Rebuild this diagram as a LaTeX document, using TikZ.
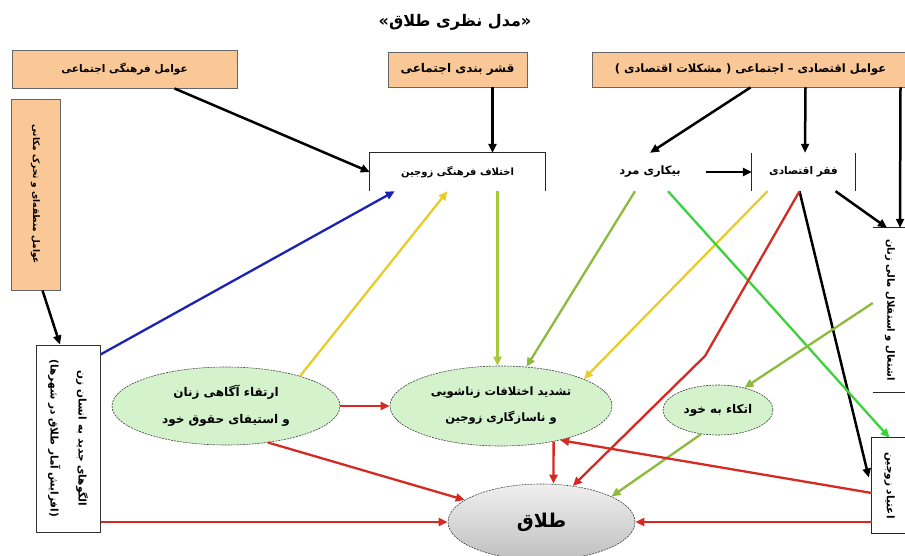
\documentclass[tikz,border=0pt]{standalone}
\usepackage{fontspec}
\newfontfamily\fa[Script=Arabic]{DejaVu Sans}
\TeXXeTstate=1
\usetikzlibrary{shapes.geometric,calc,arrows.meta}
\definecolor{peachc}{HTML}{F9C896}
\definecolor{greenc}{HTML}{D4F2CC}
\definecolor{redc}{HTML}{D42A22}
\definecolor{bluec}{HTML}{1C22B4}
\definecolor{goldc}{HTML}{E8CC2C}
\definecolor{ygreenc}{HTML}{A6C83A}
\definecolor{olivec}{HTML}{8DBA3A}
\definecolor{brightgc}{HTML}{3CD23C}
\newcommand{\RL}[1]{\beginR #1\endR}
\newcommand{\fs}[1]{\fontsize{#1}{#1}\selectfont}
\begin{document}
\begin{tikzpicture}[x=1pt,y=-1pt,
  pbox/.style={rectangle, fill=peachc, draw=black!60, line width=0.9pt, inner sep=0pt, font=\fa\bfseries},
  wbox/.style={rectangle, inner sep=0pt, font=\fa\bfseries},
  vtext/.style={inner sep=0pt, rotate=-90, align=center, font=\fa\bfseries},
  bub/.style={ellipse, fill=greenc, draw=black!75, dash pattern=on 2pt off 1pt, line width=0.6pt, inner sep=0pt, align=center, font=\fa\bfseries\fontsize{11.5}{26}\selectfont},
  border/.style={black!85, line width=1.2pt},
  arr/.style={-{Triangle[length=9pt,width=8pt]}, line width=2.5pt},
  carr/.style={-{Triangle[length=9pt,width=8pt]}, line width=2.3pt}
]
\useasboundingbox (0,0) rectangle (905,556);

% title
\node[font=\fa\bfseries\fs{16}] (title) at (455,22) {\RL{«مدل نظری طلاق»}};

% top boxes
\node[pbox, minimum width=225pt, minimum height=38pt] (b1) at (124.5,69) {\fs{10.5}\RL{عوامل فرهنگی اجتماعی}};
\node[pbox, minimum width=139pt, minimum height=35pt] (b2) at (457.5,69.5) {\fs{12}\RL{قشر بندی اجتماعی}};
\node[pbox, minimum width=317pt, minimum height=35pt] (b3) at (750.5,69.5) {\fs{11.5}\RL{عوامل اقتصادی – اجتماعی ( مشکلات اقتصادی )}};

% left vertical boxes
\node[pbox, minimum width=49pt, minimum height=191pt] (lv) at (35.5,194.5) {};
\node[vtext] (lvt) at (lv.center) {\fs{9}\RL{عوامل منطقه‌ای و تحرک مکانی}};
\node[wbox, draw=black!80, line width=1pt, minimum width=64pt, minimum height=187pt] (lw) at (68,438.5) {};
\node[vtext, font=\fa\bfseries\fontsize{10.5}{28}\selectfont] (lwt) at (lw.center) {\RL{الگوهای جدید به انسان زن}\\\RL{(افزایش آمار طلاق در شهرها)}};

% middle row boxes
\node[wbox, minimum width=175pt, minimum height=38pt] (c1) at (457.5,172) {\fs{10}\RL{اختلاف فرهنگی زوجین}};
\draw[border] (c1.south west) -- (c1.north west) -- (c1.north east) -- (c1.south east);
\node[wbox, minimum width=112pt, minimum height=38pt] (c2) at (650,172) {\fs{11.5}\RL{بیکاری مرد}};
\node[wbox, minimum width=103pt, minimum height=38pt] (c3) at (803.5,172) {\fs{10.5}\RL{فقر اقتصادی}};
\draw[border] (c3.south west) -- (c3.north west);
\draw[border] (c3.south east) -- (c3.north east);

% right vertical boxes
\node[wbox, minimum width=34pt, minimum height=164pt] (r1) at (890,310) {};
\draw[border] (r1.north west) -- (r1.north east);
\draw[border] (r1.south west) -- (r1.south east);
\node[vtext] (r1t) at (r1.center) {\fs{10}\RL{اشتغال و استقلال مالی زنان}};
\node[wbox, minimum width=35pt, minimum height=95pt] (r2) at (889.5,485.5) {};
\draw[border] (r2.north east) -- (r2.north west) -- (r2.south west) -- (r2.south east);
\node[vtext] (r2t) at (r2.center) {\fs{10.5}\RL{اعتیاد زوجین}};

% ellipses
\node[bub, minimum width=228pt, minimum height=78pt, font=\fa\bfseries\fontsize{12}{27}\selectfont] (e1) at (226,406) {\RL{ارتقاء آگاهی زنان}\\\RL{و استیفای حقوق خود}};
\node[bub, minimum width=222pt, minimum height=80pt] (e2) at (501,406) {\RL{تشدید اختلافات زناشویی}\\\RL{و ناسازگاری زوجین}};
\node[bub, minimum width=110pt, minimum height=50pt, font=\fa\bfseries\fs{12}] (e3) at (718,410) {\RL{اتکاء به خود}};
\node[ellipse, top color=gray!12, bottom color=gray!50, draw=black!75, dash pattern=on 2pt off 1pt, line width=0.6pt, inner sep=0pt, minimum width=187pt, minimum height=76pt, font=\fa\bfseries\fs{19}] (T) at (541.5,522) {\RL{طلاق}};

% black arrows
\draw[arr] ($(b1.south)+(50,0)$) -- (c1.west);
\draw[arr] ($(b2.south)+(35,0)$) -- ($(c1.north)+(35,0)$);
\draw[arr] (b3.south) -- (c2.north);
\draw[arr] ($(b3.south)+(55,0)$) -- ($(c3.north)+(1.5,0)$);
\draw[arr] ($(b3.south)+(150,0)$) -- ($(r1.north)+(10,0)$);
\draw[arr] ($(c3.south)+(32,0)$) -- ($(r1.north)+(-3,0)$);
\draw[arr] ($(lv.south)+(7,0)$) -- ($(lw.north)+(-8,0)$);
\draw[arr] (c2.east) -- (c3.west);
\draw[arr] ($(c3.south)+(-4,0)$) -- ($(r2.west)+(-3,-8)$);

% coloured arrows
\draw[carr, bluec] ($(lw.north east)+(0,10)$) -- ($(c1.south west)+(25,0)$);
\draw[carr, goldc] (e1.22) -- ($(c1.south)+(-10,0)$);
\draw[carr, ygreenc] ($(c1.south)+(40,0)$) -- ($(e2.north)+(-3.5,0)$);
\draw[carr, olivec] ($(c2.south)+(-15,0)$) -- (e2.57);
\draw[carr, goldc] ($(c3.south)+(-36,0)$) -- (e2.18);
\draw[carr, brightgc] ($(c2.south)+(18,0)$) -- (r2.north);
\coordinate (rk) at (705,356);
\draw[carr, redc] ($(c3.south)+(-4,0)$) -- (rk) -- (T.49);
\draw[carr, olivec] ($(r1.west)+(0,-7)$) -- (e3.40);
\draw[carr, olivec] (e3.235) -- (T.20);
\draw[carr, redc] (e1.east) -- (e2.west);
\draw[carr, redc] (e1.-41) -- (T.164);
\draw[carr, redc] ($(lw.east)+(0,83.5)$) -- (T.west);
\draw[carr, redc] (e2.-34) -- ($(T.north)+(12,0)$);
\draw[carr, redc] ($(r2.west)+(0,7.5)$) -- (e2.-30);
\draw[carr, redc] ($(r2.west)+(0,36.5)$) -- (T.east);
\end{tikzpicture}
\end{document}
